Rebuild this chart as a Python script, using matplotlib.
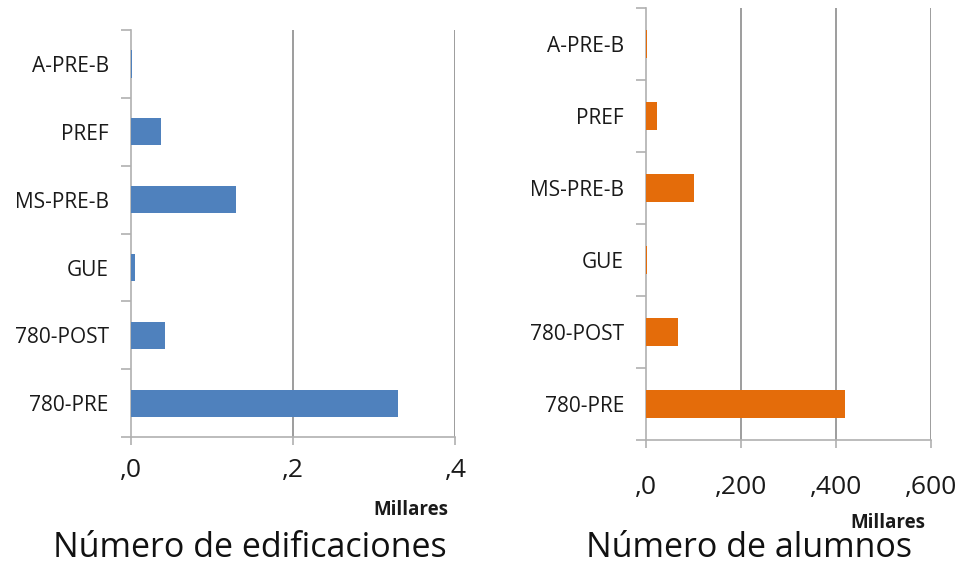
import matplotlib.pyplot as plt
import numpy as np

plt.rcParams['font.family'] = ['Open Sans', 'DejaVu Sans']

# categorias de arriba a abajo
categorias = ["A-PRE-B", "PREF", "MS-PRE-B", "GUE", "780-POST", "780-PRE"]

# valores en millares
edificaciones = [0.001, 0.037, 0.130, 0.005, 0.042, 0.329]
alumnos = [1, 22, 101, 2, 68, 418]

ticks_edif = [0, 0.2, 0.4]
etiq_edif = [",0", ",2", ",4"]
ticks_alum = [0, 200, 400, 600]
etiq_alum = [",0", ",200", ",400", ",600"]

AZUL = "#4F81BD"
NARANJA = "#E46C0A"
GRIS_GRID = "#8C8C8C"
GRIS_EJE = "#B0B0B0"
TEXTO = "#1a1a1a"


# Dibuja un grafico de barras horizontales al estilo Excel
def DibujaBarras(ax, valores, color, ticks, etiquetas, pad_x):
    n = len(categorias)
    pos = np.arange(n)
    ax.barh(pos, valores, height=0.4, color=color, zorder=3)
    ax.set_ylim(n - 0.5, -0.5)
    ax.set_xlim(ticks[0], ticks[-1])

    # marcas entre categorias, etiquetas en el centro
    ax.set_yticks(np.arange(n + 1) - 0.5)
    ax.set_yticklabels([])
    ax.set_yticks(pos, minor=True)
    ax.set_yticklabels(categorias, minor=True, fontsize=15, color=TEXTO)
    ax.tick_params(axis="y", which="major", length=7, color=GRIS_EJE, width=1.2)
    ax.tick_params(axis="y", which="minor", length=0, pad=16)

    ax.set_xticks(ticks)
    ax.set_xticklabels(etiquetas, fontsize=19, color=TEXTO)
    ax.tick_params(axis="x", length=6, color=GRIS_EJE, width=1.2, pad=pad_x)

    for t in ticks[1:]:
        ax.axvline(t, color=GRIS_GRID, lw=1.2, zorder=1)

    ax.spines["top"].set_visible(False)
    ax.spines["right"].set_visible(False)
    ax.spines["left"].set_color(GRIS_EJE)
    ax.spines["bottom"].set_color(GRIS_EJE)
    ax.spines["left"].set_linewidth(1.2)
    ax.spines["bottom"].set_linewidth(1.2)


fig = plt.figure(figsize=(9.63, 5.67), dpi=100)

ax1 = fig.add_axes([0.136, 0.229, 0.337, 0.718])
DibujaBarras(ax1, edificaciones, AZUL, ticks_edif, etiq_edif, 9)

ax2 = fig.add_axes([0.671, 0.224, 0.296, 0.762])
DibujaBarras(ax2, alumnos, NARANJA, ticks_alum, etiq_alum, 19)

fig.text(0.466, 0.092, "Millares", fontsize=13.5, fontweight="bold", ha="right", color=TEXTO)
fig.text(0.961, 0.069, "Millares", fontsize=13.5, fontweight="bold", ha="right", color=TEXTO)
fig.text(0.259, 0.018, "Número de edificaciones", fontsize=24.5, ha="center",
         va="baseline", color="#111111")
fig.text(0.778, 0.018, "Número de alumnos", fontsize=24.5, ha="center",
         va="baseline", color="#111111")

fig.savefig("out.png", dpi=100)
